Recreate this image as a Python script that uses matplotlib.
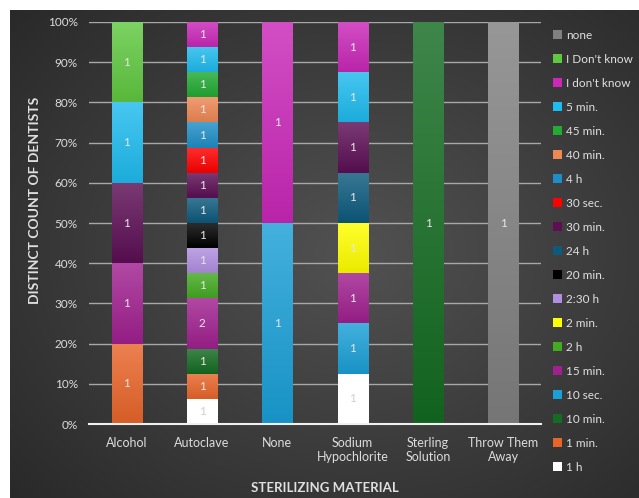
import numpy as np
import matplotlib.pyplot as plt
from matplotlib.patches import Patch
from matplotlib.colors import to_rgb

plt.rcParams['font.family'] = ['Lato', 'DejaVu Sans']

materials = ['Alcohol', 'Autoclave', 'None', 'Sodium\nHypochlorite', 'Sterling\nSolution', 'Throw Them\nAway']

# stack order, bottom to top
times = ['1 h', '1 min.', '10 min.', '10 sec.', '15 min.', '2 h', '2 min.', '2:30 h', '20 min.',
         '24 h', '30 min.', '30 sec.', '4 h', '40 min.', '45 min.', '5 min.', "I don't know",
         "I Don't know", 'none']
colors = ['#ffffff', '#e8652a', '#146b22', '#1a9fd6', '#a0208f', '#44aa22', '#ffff00', '#b08fe0', '#000000',
          '#0d5a7d', '#5c0f55', '#ff0000', '#1f8ec6', '#ee8855', '#22aa33', '#1fbbee', '#c928b8',
          '#60c840', '#808080']

# counts per material (Alcohol, Autoclave, None, Sodium, Sterling, Throw)
counts = {
    '1 h':          [0, 1, 0, 1, 0, 0],
    '1 min.':       [1, 1, 0, 0, 0, 0],
    '10 min.':      [0, 1, 0, 0, 1, 0],
    '10 sec.':      [0, 0, 1, 1, 0, 0],
    '15 min.':      [1, 2, 0, 1, 0, 0],
    '2 h':          [0, 1, 0, 0, 0, 0],
    '2 min.':       [0, 0, 0, 1, 0, 0],
    '2:30 h':       [0, 1, 0, 0, 0, 0],
    '20 min.':      [0, 1, 0, 0, 0, 0],
    '24 h':         [0, 1, 0, 1, 0, 0],
    '30 min.':      [1, 1, 0, 1, 0, 0],
    '30 sec.':      [0, 1, 0, 0, 0, 0],
    '4 h':          [0, 1, 0, 0, 0, 0],
    '40 min.':      [0, 1, 0, 0, 0, 0],
    '45 min.':      [0, 1, 0, 0, 0, 0],
    '5 min.':       [1, 1, 0, 1, 0, 0],
    "I don't know": [0, 1, 1, 1, 0, 0],
    "I Don't know": [1, 0, 0, 0, 0, 0],
    'none':         [0, 0, 0, 0, 0, 1],
}

W, H = 639, 498
BAR_W = 0.4
fig = plt.figure(figsize=(W / 100, H / 100), dpi=100, facecolor='white')

# dark gradient background
bg = fig.add_axes([10 / W, 0, (W - 10) / W, (H - 10) / H], zorder=-1)
yy, xx = np.mgrid[0:1:300j, 0:1:400j]
d = np.sqrt(((xx - 0.55) / 0.75) ** 2 + ((yy - 0.5) / 0.75) ** 2)
g = np.clip(0.32 - 0.16 * d, 0.16, 0.34)
bg.imshow(np.dstack([g, g, g]), aspect='auto', extent=[0, 1, 0, 1], interpolation='bilinear')
bg.axis('off')

ax = fig.add_axes([89 / W, (H - 424) / H, 452 / W, 402 / H])
ax.set_facecolor('none')


def segment_gradient(c, n=50):
    # lighter at top, slightly darker at bottom
    base = np.array(to_rgb(c))
    if c == '#ffffff':
        return np.tile(base, (n, 1, 1))
    t = np.linspace(0, 1, n)[:, None]  # 0 = top row
    top = base + (1 - base) * 0.18
    bot = base * 0.92
    return (top * (1 - t) + bot * t)[:, None, :]


x = np.arange(len(materials))
totals = np.sum([counts[t] for t in times], axis=0)
bottom = np.zeros(len(materials))
for t, c in zip(times, colors):
    vals = np.array(counts[t], dtype=float)
    pct = vals / totals * 100
    ax.bar(x, pct, BAR_W, bottom=bottom, color=c, zorder=3)
    for i in range(len(materials)):
        if vals[i] > 0:
            ax.imshow(segment_gradient(c), aspect='auto', interpolation='bilinear', zorder=3.5,
                      extent=[x[i] - BAR_W / 2, x[i] + BAR_W / 2, bottom[i], bottom[i] + pct[i]])
            tc = '#d0d0d0' if c == '#ffffff' else '#e6e6e6'
            ax.text(x[i], bottom[i] + pct[i] / 2, str(int(vals[i])), ha='center', va='center',
                    fontsize=8.5, color=tc, zorder=4)
    bottom += pct

ax.set_xlim(-0.5, len(materials) - 0.5)
ax.set_ylim(0, 100)
ax.set_aspect('auto')
ax.set_yticks(np.arange(0, 101, 10))
ax.set_yticklabels(['{}%'.format(v) for v in range(0, 101, 10)])
ax.set_xticks(x)
ax.set_xticklabels(materials)
ax.grid(axis='y', color='#a8a8a8', linewidth=1, zorder=0)
ax.set_axisbelow(True)
for s in ['top', 'right', 'left']:
    ax.spines[s].set_visible(False)
ax.spines['bottom'].set_color('#f0f0f0')
ax.spines['bottom'].set_linewidth(1.5)
ax.spines['bottom'].set_zorder(5)
ax.tick_params(axis='both', length=0, colors='#dcdcdc')
ax.tick_params(axis='y', pad=8, labelsize=8.5)
ax.tick_params(axis='x', pad=9, labelsize=9)

fig.text(35 / W, (H - 200) / H, 'DISTINCT COUNT OF DENTISTS', rotation=90, ha='center', va='center',
         fontsize=10, fontweight='bold', color='#e0e0e0')
fig.text(325 / W, (H - 488) / H, 'STERILIZING MATERIAL', ha='center', va='center',
         fontsize=9.5, fontweight='bold', color='#e0e0e0')

handles = [Patch(facecolor=c, label=t) for t, c in zip(times[::-1], colors[::-1])]
leg = fig.legend(handles=handles, loc='upper left', bbox_to_anchor=(553 / W, (H - 30) / H),
                 frameon=False, fontsize=8.5, handlelength=0.8, handleheight=0.8, handletextpad=0.3,
                 labelspacing=1.1, borderaxespad=0, borderpad=0)
for txt in leg.get_texts():
    txt.set_color('#e0e0e0')

fig.savefig('out.png', dpi=100, facecolor='white')
